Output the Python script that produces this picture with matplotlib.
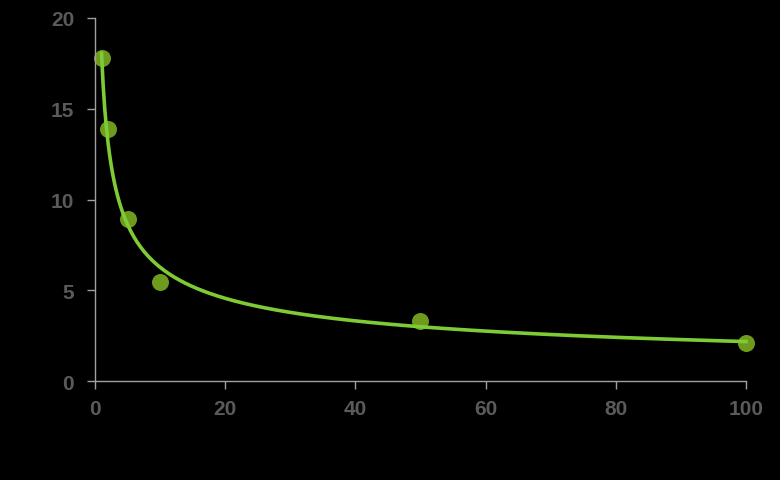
import numpy as np
import matplotlib
matplotlib.use("Agg")
import matplotlib.pyplot as plt

# data points
x_vals = [1, 2, 5, 10, 50, 100]
y_vals = [17.8, 13.9, 8.9, 5.45, 3.3, 2.1]
x_ticks = [0, 20, 40, 60, 80, 100]
y_ticks = [0, 5, 10, 15, 20]

# power trendline fitted to the points (y = a * x^b)
b, log_a = np.polyfit(np.log(x_vals), np.log(y_vals), 1)
x_fit = np.linspace(min(x_vals), max(x_vals), 400)
y_fit = np.exp(log_a) * x_fit ** b

fig = plt.figure(figsize=(7.8, 4.81), dpi=100, facecolor="black")
ax = fig.add_axes([0.1218, 0.2058, 0.8346, 0.7547], facecolor="black")

ax.scatter(x_vals, y_vals, s=150, color="#6e9a1e", zorder=2, linewidths=0, clip_on=False)
ax.plot(x_fit, y_fit, color="#7fcb35", linewidth=2.6, zorder=3, clip_on=False)

ax.set_xlim(0, 100)
ax.set_ylim(0, 20)
ax.set_xticks(x_ticks)
ax.set_yticks(y_ticks)

for side in ("top", "right"):
    ax.spines[side].set_visible(False)
for side in ("left", "bottom"):
    ax.spines[side].set_color("#a0a0a0")
    ax.spines[side].set_linewidth(1.0)

ax.tick_params(colors="#a0a0a0", direction="out", length=6, width=1.0,
               labelcolor="#5a5a5a", labelsize=15)
ax.tick_params(axis="y", pad=9)
ax.tick_params(axis="x", pad=7)
for lbl in ax.get_xticklabels() + ax.get_yticklabels():
    lbl.set_fontweight("bold")
    lbl.set_family("Liberation Sans")

fig.savefig("out.png", dpi=100, facecolor="black")
